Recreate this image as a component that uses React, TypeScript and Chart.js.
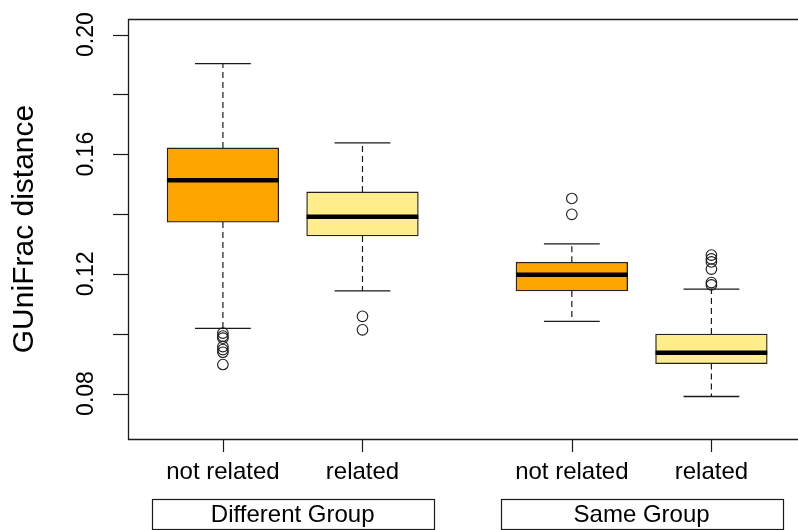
import React, { useEffect, useRef } from "react";
import { Chart, registerables } from "chart.js";

Chart.register(...registerables);

// Box-plot summary per category (lower whisker, quartiles, median, upper whisker)
const categories = ["not related", "related", "not related", "related"];
const positions = [1, 2, 3.5, 4.5];
const groups = ["Different Group", "Same Group"];
const groupCenters = [1.5, 4.0];

const lowerWhisker = [0.1018, 0.1143, 0.1041, 0.079];
const q1 = [0.1373, 0.1327, 0.1143, 0.09];
const median = [0.1513, 0.1391, 0.1197, 0.0936];
const q3 = [0.1621, 0.1474, 0.1239, 0.0999];
const upperWhisker = [0.1903, 0.1638, 0.13, 0.1149];

const outliersDiffNotRelated = [0.1002, 0.0992, 0.0985, 0.0957, 0.0947, 0.0938, 0.0897];
const outliersDiffRelated = [0.1058, 0.1013];
const outliersSameNotRelated = [0.1452, 0.1399];
const outliersSameRelated = [0.1263, 0.125, 0.124, 0.1216, 0.1171, 0.1163];

const yTicks = [0.08, 0.1, 0.12, 0.14, 0.16, 0.18, 0.2];
const yTickLabels = ["0.08", "", "0.12", "", "0.16", "", "0.20"];
const yTitle = "GUniFrac distance";

const fills = ["#FFA500", "#FFEC8B", "#FFA500", "#FFEC8B"];

// Geometry
const CANVAS_W = 798;
const CANVAS_H = 530;
const PAD = { left: 128, top: 19, right: 0, bottom: 91 };
const X_MIN = 0.32;
const X_MAX = 5.1204; // plot region continues past the right edge of the canvas
const Y_MIN = 0.0648;
const Y_MAX = 0.2052;
const BOX_WIDTH = 0.8;
const STAPLE_HALF = 0.2;
const GROUP_HALF = 1.01;

const FONT = '"Liberation Sans", Arial, Helvetica, sans-serif';
const INK = "#1a1a1a";

const outlierSets = [
  outliersDiffNotRelated,
  outliersDiffRelated,
  outliersSameNotRelated,
  outliersSameRelated,
];

function segment(x0: number, y0: number, x1: number, y1: number, extra: any) {
  return {
    type: "line",
    data: [
      { x: x0, y: y0 },
      { x: x1, y: y1 },
    ],
    pointRadius: 0,
    pointHoverRadius: 0,
    fill: false,
    tension: 0,
    ...extra,
  };
}

const axesPlugin = {
  id: "rAxes",
  afterDatasetsDraw(chart: any) {
    const { ctx, chartArea } = chart;
    ctx.save();
    ctx.strokeStyle = INK;
    ctx.lineWidth = 1.3;
    // left, top and bottom sides of the plot frame (right side lies off-canvas)
    ctx.beginPath();
    ctx.moveTo(chartArea.right + 10, chartArea.top + 0.5);
    ctx.lineTo(chartArea.left + 0.5, chartArea.top + 0.5);
    ctx.lineTo(chartArea.left + 0.5, chartArea.bottom + 0.5);
    ctx.lineTo(chartArea.right + 10, chartArea.bottom + 0.5);
    ctx.stroke();
    ctx.restore();
  },
  afterDraw(chart: any) {
    const { ctx, chartArea, scales } = chart;
    const xs = scales.x;
    const ys = scales.y;
    ctx.save();
    ctx.strokeStyle = INK;
    ctx.fillStyle = "#000";
    ctx.lineWidth = 1.2;

    // y ticks and rotated labels
    yTicks.forEach((v, i) => {
      const py = Math.round(ys.getPixelForValue(v)) + 0.5;
      ctx.beginPath();
      ctx.moveTo(chartArea.left - 15, py);
      ctx.lineTo(chartArea.left, py);
      ctx.stroke();
      if (yTickLabels[i]) {
        ctx.save();
        ctx.translate(chartArea.left - 35, ys.getPixelForValue(v));
        ctx.rotate(-Math.PI / 2);
        ctx.font = `23px ${FONT}`;
        ctx.textAlign = "center";
        ctx.textBaseline = "alphabetic";
        ctx.fillText(yTickLabels[i], 0, 0);
        ctx.restore();
      }
    });

    // y title
    ctx.save();
    ctx.translate(33, (chartArea.top + chartArea.bottom) / 2);
    ctx.rotate(-Math.PI / 2);
    ctx.font = `30px ${FONT}`;
    ctx.textAlign = "center";
    ctx.textBaseline = "alphabetic";
    ctx.fillText(yTitle, 0, 0);
    ctx.restore();

    // x ticks and category labels
    positions.forEach((p, i) => {
      const px = Math.round(xs.getPixelForValue(p)) + 0.5;
      ctx.beginPath();
      ctx.moveTo(px, chartArea.bottom);
      ctx.lineTo(px, chartArea.bottom + 13);
      ctx.stroke();
      ctx.font = `24px ${FONT}`;
      ctx.textAlign = "center";
      ctx.textBaseline = "alphabetic";
      ctx.fillText(categories[i], xs.getPixelForValue(p), chartArea.bottom + 40);
    });

    // group label boxes
    groups.forEach((g, i) => {
      const x0 = xs.getPixelForValue(groupCenters[i] - GROUP_HALF);
      const x1 = xs.getPixelForValue(groupCenters[i] + GROUP_HALF);
      const top = chartArea.bottom + 60;
      const h = 30;
      ctx.lineWidth = 1.2;
      ctx.strokeRect(Math.round(x0) + 0.5, top + 0.5, Math.round(x1 - x0), h);
      ctx.font = `24px ${FONT}`;
      ctx.textAlign = "center";
      ctx.textBaseline = "alphabetic";
      ctx.fillText(g, (x0 + x1) / 2, top + 23);
    });
    ctx.restore();
  },
};

export default function App() {
  const canvasRef = useRef<HTMLCanvasElement | null>(null);

  useEffect(() => {
    const canvas = canvasRef.current;
    if (!canvas) return;

    const pxPerUnit = (CANVAS_W - PAD.left - PAD.right) / (X_MAX - X_MIN);

    const whiskers: any[] = [];
    const staples: any[] = [];
    const medians: any[] = [];
    positions.forEach((p, i) => {
      const dashed = { borderColor: INK, borderWidth: 1.2, borderDash: [6, 4], order: 4 };
      whiskers.push(segment(p, q3[i], p, upperWhisker[i], dashed));
      whiskers.push(segment(p, q1[i], p, lowerWhisker[i], dashed));
      const solid = { borderColor: INK, borderWidth: 1.3, order: 3 };
      staples.push(segment(p - STAPLE_HALF, upperWhisker[i], p + STAPLE_HALF, upperWhisker[i], solid));
      staples.push(segment(p - STAPLE_HALF, lowerWhisker[i], p + STAPLE_HALF, lowerWhisker[i], solid));
      medians.push(
        segment(p - BOX_WIDTH / 2, median[i], p + BOX_WIDTH / 2, median[i], {
          borderColor: "#000",
          borderWidth: 4.5,
          borderCapStyle: "butt",
          order: 1,
        })
      );
    });

    const outlierPoints: { x: number; y: number }[] = [];
    outlierSets.forEach((set, i) => set.forEach((v) => outlierPoints.push({ x: positions[i], y: v })));

    const chart = new Chart(canvas, {
      type: "scatter",
      data: {
        datasets: [
          {
            type: "scatter",
            data: outlierPoints,
            pointRadius: 5.3,
            pointHoverRadius: 5.3,
            pointBorderWidth: 1.1,
            pointBackgroundColor: "rgba(0,0,0,0)",
            pointBorderColor: INK,
            order: 0,
          } as any,
          ...medians,
          {
            type: "bar",
            data: positions.map((p, i) => ({ x: p, y: [q1[i], q3[i]] })),
            backgroundColor: fills,
            borderColor: "#222",
            borderWidth: 1.3,
            borderSkipped: false,
            barThickness: BOX_WIDTH * pxPerUnit,
            order: 2,
          } as any,
          ...staples,
          ...whiskers,
        ],
      },
      options: {
        animation: false,
        responsive: false,
        maintainAspectRatio: false,
        devicePixelRatio: 1,
        layout: { padding: PAD, autoPadding: false },
        plugins: {
          legend: { display: false },
          tooltip: { enabled: false },
        },
        events: [],
        scales: {
          x: { type: "linear", min: X_MIN, max: X_MAX, offset: false, display: false },
          y: { type: "linear", min: Y_MIN, max: Y_MAX, beginAtZero: false, display: false },
        },
      },
      plugins: [axesPlugin],
    } as any);

    return () => chart.destroy();
  }, []);

  return (
    <div
      style={{
        position: "fixed",
        left: 0,
        top: 0,
        width: 798,
        height: 530,
        overflow: "hidden",
        background: "#fff",
      }}
    >
      <canvas
        ref={canvasRef}
        width={CANVAS_W}
        height={CANVAS_H}
        style={{ display: "block", width: CANVAS_W, height: CANVAS_H }}
      />
    </div>
  );
}
